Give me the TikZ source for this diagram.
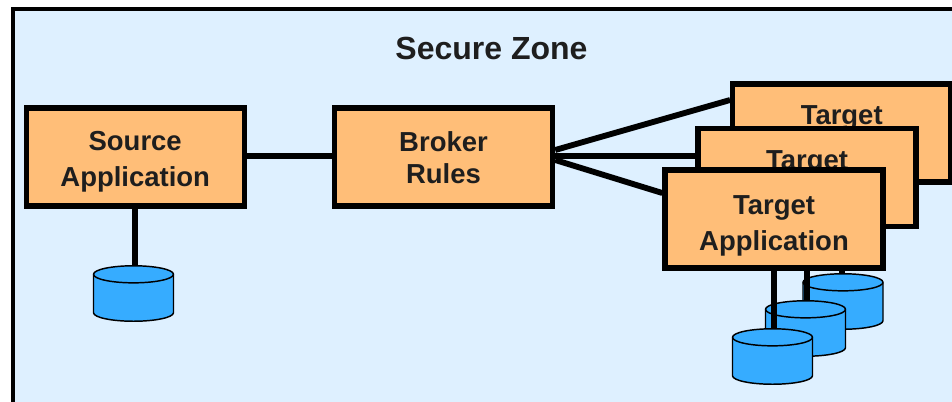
\documentclass[tikz,border=0pt]{standalone}
\usepackage{fontspec}
\setmainfont{Liberation Sans}
\definecolor{zonefill}{HTML}{DEF0FF}
\definecolor{boxfill}{HTML}{FFBE78}
\definecolor{dbfill}{HTML}{36ACFF}
\definecolor{inkc}{HTML}{1E1E1E}
\newcommand{\toplift}[1]{\rule{0pt}{#1pt}}
\newcommand{\dbnode}[3]{%
  \node[dbanchor] (#1) at (#2,#3) {};
  \path[dbline,fill=dbfill] ([shift={(-30pt,14.4pt)}]#1.center) -- ([shift={(-30pt,-14.4pt)}]#1.center)
     arc[start angle=180,end angle=360,x radius=30pt,y radius=6.4pt]
     -- ([shift={(30pt,14.4pt)}]#1.center)
     arc[start angle=0,end angle=180,x radius=30pt,y radius=6.4pt] -- cycle;
  \path[dbline] ([shift={(-30pt,14.4pt)}]#1.center)
     arc[start angle=180,end angle=360,x radius=30pt,y radius=6.4pt];
}
\tikzset{
  appbox/.style={draw=black,fill=boxfill,line width=4pt,minimum width=163.5pt,minimum height=73.5pt,inner sep=0pt,align=center,text=inkc,font=\fontsize{20.6}{27}\selectfont\bfseries},
  dbanchor/.style={rectangle,minimum width=60pt,minimum height=41.6pt,inner sep=0pt,outer sep=0pt},
  dbline/.style={draw=black,line width=1.1pt,line join=round},
  link/.style={draw=black,line width=4.4pt}
}
\begin{document}
\begin{tikzpicture}[x=0.75pt,y=-0.75pt]
\useasboundingbox (0,0) rectangle (952,401);
\clip (0,0) rectangle (952,401);
\fill[white] (0,0) rectangle (952,401);
\draw[fill=zonefill,draw=black,line width=3pt] (13,9) rectangle (990,440);
\node[text=inkc,font=\fontsize{24}{28}\selectfont\bfseries] (title) at (491.5,48) {Secure Zone};
% source and broker
\node[appbox] (source) at (135.2,157) {\toplift{22}Source\\Application};
\node[appbox] (broker) at (443.5,157) {\toplift{16.5}Broker\\[-3pt]Rules};
\dbnode{dbs}{133.5}{293.5}
\draw[link] (source.south) -- (source.south |- dbs.north);
\draw[link] ([yshift=0.75pt]source.east) -- ([yshift=0.75pt]broker.west);
% back target
\node[appbox] (tback) at (841.7,133) {\toplift{22}Target\\\strut};
\draw[link] ([yshift=5.25pt]broker.east) -- ([yshift=24.75pt]tback.west);
\dbnode{dbback}{843}{301.5}
\draw[link] (tback.south) -- (tback.south |- dbback.north);
% middle target
\node[appbox] (tmid) at (807,177.5) {\toplift{23.5}Target\\\strut};
\draw[link] ([yshift=0.75pt]broker.east) -- ([yshift=16.1pt]tmid.west);
\dbnode{dbmid}{805.5}{328.5}
\draw[link] (tmid.south) -- (tmid.south |- dbmid.north);
% front target
\node[appbox] (tfront) at (774,219) {\toplift{25}Target\\Application};
\draw[link] ([yshift=-2.25pt]broker.east) -- ([yshift=19.5pt]tfront.west);
\dbnode{dbfront}{772.5}{356.5}
\draw[link] (tfront.south) -- (tfront.south |- dbfront.north);
\end{tikzpicture}
\end{document}
